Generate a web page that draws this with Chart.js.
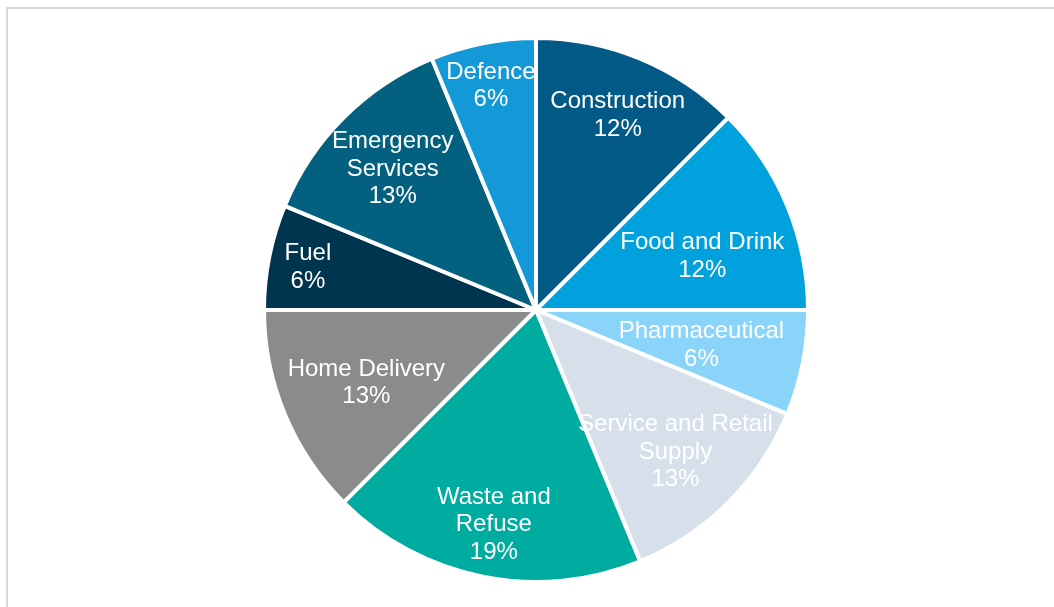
<!DOCTYPE html>
<html>
<head>
<meta charset="utf-8">
<script src="https://cdn.jsdelivr.net/npm/chart.js@4.4.0/dist/chart.umd.min.js"></script>
<style>
  html, body { margin: 0; padding: 0; background: #fff; }
  #wrap { position: relative; width: 1054px; height: 607px; }
  #frame { position: absolute; left: 6px; top: 7px; right: 0; bottom: 0; border-left: 2px solid #d9d9d9; border-top: 2px solid #d9d9d9; }
  canvas { position: absolute; left: 0; top: 0; }
</style>
</head>
<body>
<div id="wrap">
  <div id="frame"></div>
  <canvas id="pie" width="1054" height="607"></canvas>
</div>
<script>
// categories, clockwise from 12 o'clock
const categories = [
  ['Construction'],
  ['Food and Drink'],
  ['Pharmaceutical'],
  ['Service and Retail', 'Supply'],
  ['Waste and', 'Refuse'],
  ['Home Delivery'],
  ['Fuel'],
  ['Emergency', 'Services'],
  ['Defence']
];
const counts = [2, 2, 1, 2, 3, 2, 1, 2, 1];
const pctLabels = ['12%', '12%', '6%', '13%', '19%', '13%', '6%', '13%', '6%'];

const colors = ['#035a86', '#00a1dd', '#89d4f8', '#d5e0eb', '#00ab9f', '#8a8b8d', '#00354f', '#03607f', '#1499d8'];
// label placement: fraction of radius, and a small turn (degrees) off the slice middle
const labelPos = [0.785, 0.645, 0.62, 0.725, 0.795, 0.675, 0.855, 0.745, 0.85];
const labelTurn = [0, 3.9, 0, 0, 0, 0, 0, 0, 0];

const pieLabels = {
  id: 'pieLabels',
  afterDatasetsDraw(chart) {
    const ctx = chart.ctx;
    const arcs = chart.getDatasetMeta(0).data;
    ctx.save();
    ctx.fillStyle = '#ffffff';
    ctx.font = '24px "Liberation Sans", Arial, sans-serif';
    ctx.textAlign = 'center';
    ctx.textBaseline = 'middle';
    arcs.forEach((arc, i) => {
      const mid = (arc.startAngle + arc.endAngle) / 2 + labelTurn[i] * Math.PI / 180;
      const r = arc.outerRadius * labelPos[i];
      const x = arc.x + Math.cos(mid) * r;
      const y = arc.y + Math.sin(mid) * r + 2.5;
      const lines = categories[i].concat([pctLabels[i]]);
      const lh = 27.5;
      const top = y - (lines.length - 1) * lh / 2;
      lines.forEach((t, j) => ctx.fillText(t, x, top + j * lh));
    });
    ctx.restore();
  }
};

const ctx = document.getElementById('pie');
const myChart = new Chart(ctx, {
  type: 'pie',
  data: {
    labels: categories.map(c => c.join(' ')),
    datasets: [{
      data: counts,
      backgroundColor: colors,
      borderColor: '#ffffff',
      borderWidth: 4,
    }],
  },
  options: {
    responsive: false,
    animation: false,
    layout: {
      padding: { left: 18, right: 0, top: 36, bottom: 23 }
    },
    plugins: {
      legend: { display: false },
      tooltip: { enabled: false },
    }
  },
  plugins: [pieLabels]
});
</script>
</body>
</html>
